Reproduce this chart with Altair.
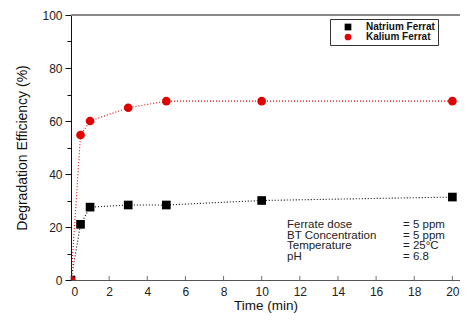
import altair as alt
import pandas as pd

time = [0, 0.5, 1, 3, 5, 10, 20]
natrium = [0, 21, 27.5, 28.3, 28.3, 30, 31.3]
kalium = [0, 54.7, 60, 65, 67.5, 67.5, 67.5]
series = ["Natrium Ferrat", "Kalium Ferrat"]
x_ticks = list(range(0, 21, 2))
y_ticks = list(range(0, 101, 10))
note_labels = ["Ferrate dose", "BT Concentration", "Temperature", "pH"]
note_values = ["= 5 ppm", "= 5 ppm", "= 25°C", "= 6.8"]

df = pd.DataFrame({
    "time": time + time,
    "eff": natrium + kalium,
    "series": [series[0]] * len(time) + [series[1]] * len(time),
})
tick_df = pd.DataFrame({"t": x_ticks})

W, H = 389, 265
FONT = "Liberation Sans"
xscale = alt.Scale(domain=[0, 20.4], nice=False, zero=False)
yscale = alt.Scale(domain=[0, 100], nice=False)
color = alt.Color("series:N", scale=alt.Scale(domain=series, range=["#000000", "#e00000"]),
                  legend=alt.Legend(title=None, orient="none", legendX=259, legendY=4,
                                    strokeColor="#333", fillColor="white", padding=3,
                                    labelFont=FONT, labelFontSize=10, labelFontWeight="bold",
                                    labelColor="#111", rowPadding=0, symbolSize=45,
                                    symbolOffset=10, labelOffset=13,
                                    symbolStrokeWidth=0, labelLimit=200))
shape = alt.Shape("series:N", scale=alt.Scale(domain=series, range=["square", "circle"]), legend=None)

x_axis = alt.Axis(values=x_ticks, title="Time (min)", grid=False, labelFont=FONT, labelFontSize=12,
                  labelColor="#222", titleFont=FONT, titleFontSize=13.5, titleFontWeight="normal",
                  titleColor="#111", domainColor="#555", ticks=False, tickSize=0,
                  labelOverlap=False, labelPadding=6, titlePadding=1)
y_axis = alt.Axis(values=y_ticks, title="Degradation Efficiency (%)", grid=False,
                  labelExpr="datum.value % 20 == 0 ? datum.label : ''",
                  labelFont=FONT, labelFontSize=12, labelColor="#222", titleFont=FONT,
                  titleFontSize=14, titleFontWeight="normal", titleColor="#111",
                  domainColor="#111", tickColor="#111", labelOverlap=False,
                  tickSize={"condition": {"test": "datum.value % 20 == 0", "value": 6}, "value": 4},
                  labelPadding=3, titlePadding=12)

base = alt.Chart(df)
lines = base.mark_line(strokeDash=[1, 2], strokeWidth=1.1, clip=True).encode(
    x=alt.X("time:Q", scale=xscale, axis=x_axis),
    y=alt.Y("eff:Q", scale=yscale, axis=y_axis),
    color=color, detail="series:N",
)
points = base.mark_point(filled=True, opacity=1, size=75, clip=True).encode(
    x=alt.X("time:Q", scale=xscale, axis=x_axis),
    y=alt.Y("eff:Q", scale=yscale, axis=y_axis),
    color=color, shape=shape,
)
xticks = alt.Chart(tick_df).mark_tick(color="#333", thickness=1, size=4).encode(
    x=alt.X("t:Q", scale=xscale, axis=x_axis),
    y=alt.value(H - 2),
)
top = alt.Chart(tick_df).mark_rule(color="#888", strokeWidth=2).encode(
    x=alt.value(0), x2=alt.value(W), y=alt.value(0)
)
notes_l = alt.Chart(pd.DataFrame({"a": [0]})).mark_text(
    text=note_labels, font=FONT, fontSize=11.5, color="#222", align="left", baseline="middle",
    lineHeight=10.7).encode(x=alt.value(216), y=alt.value(210))
notes_r = alt.Chart(pd.DataFrame({"a": [0]})).mark_text(
    text=note_values, font=FONT, fontSize=11.5, color="#222", align="left", baseline="middle",
    lineHeight=10.7).encode(x=alt.value(332), y=alt.value(210))

chart = alt.layer(top, lines, points, xticks, notes_l, notes_r).properties(
    width=W, height=H,
    autosize=alt.AutoSizeParams(type="none"),
    padding={"left": 63, "top": 7, "right": 0, "bottom": 33},
).configure_view(stroke=None).configure_axis(labelOverlap=False).configure(background="white")

chart.save("out.html", embed_options={"renderer": "svg", "actions": False})
